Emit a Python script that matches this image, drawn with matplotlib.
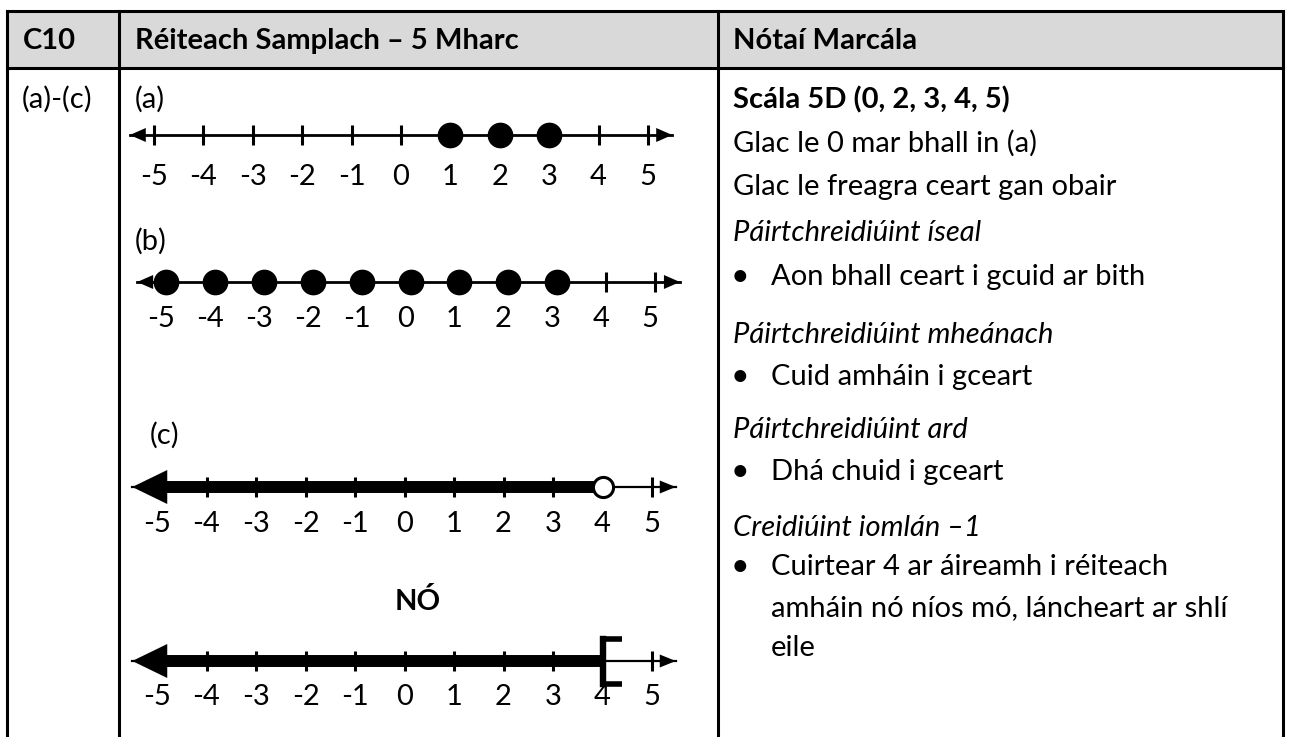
import matplotlib
matplotlib.use("Agg")
import matplotlib.pyplot as plt
from matplotlib.patches import Rectangle, Polygon

plt.rcParams['font.family'] = ['Lato', 'DejaVu Sans']

# ---------------- data ----------------
header_texts = ["C10", "Réiteach Samplach – 5 Mharc", "Nótaí Marcála"]
part_label = "(a)-(c)"
line_titles = ["(a)", "(b)", "(c)"]
or_word = "NÓ"
tick_values = [-5, -4, -3, -2, -1, 0, 1, 2, 3, 4, 5]
tick_labels = ["-5", "-4", "-3", "-2", "-1", "0", "1", "2", "3", "4", "5"]
a_points = [1, 2, 3]
b_points = [-5, -4, -3, -2, -1, 0, 1, 2, 3]
c_open_point = 4          # x < 4, open circle at 4
or_bracket_point = 4      # x <= 4 shown with bracket at 4 (alternative)
notes_texts = [
    "Scála 5D (0, 2, 3, 4, 5)",
    "Glac le 0 mar bhall in (a)",
    "Glac le freagra ceart gan obair",
    "Páirtchreidiúint íseal",
    "Aon bhall ceart i gcuid ar bith",
    "Páirtchreidiúint mheánach",
    "Cuid amháin i gceart",
    "Páirtchreidiúint ard",
    "Dhá chuid i gceart",
    "Creidiúint iomlán –1",
    "Cuirtear 4 ar áireamh i réiteach",
    "amháin nó níos mó, láncheart ar shlí",
    "eile",
]
notes_styles = ["bold", "normal", "normal", "italic", "bullet", "italic", "bullet",
                "italic", "bullet", "italic", "bullet", "cont", "cont"]

# ---------------- layout ----------------
W, H = 1290, 737
FS = 21
notes_y = [100, 143, 187, 233, 277, 335, 377, 430, 472, 528, 567, 608, 648]

fig = plt.figure(figsize=(W / 100, H / 100), dpi=100)
bg = fig.add_axes([0, 0, 1, 1])
bg.set_xlim(0, W)
bg.set_ylim(H, 0)
bg.axis('off')

L, R, T, HB = 7, 1283, 11, 68
C1, C2 = 119, 718
bg.add_patch(Rectangle((L, T), R - L, HB - T, fc='#D9D9D9', ec='none', zorder=0))
blw = 2.2
for yy in (T, HB):
    bg.plot([L, R], [yy, yy], color='black', lw=blw, solid_capstyle='projecting')
for xx in (L, C1, C2, R):
    bg.plot([xx, xx], [T, H + 5], color='black', lw=blw, solid_capstyle='projecting')

bg.text(23, 41, header_texts[0], fontsize=FS, fontweight='bold', va='center', ha='left')
bg.text(135, 41, header_texts[1], fontsize=FS, fontweight='bold', va='center', ha='left')
bg.text(733, 41, header_texts[2], fontsize=FS, fontweight='bold', va='center', ha='left')
bg.text(22, 99, part_label, fontsize=FS, va='center', ha='left')

# notes column
for txt, sty, yy in zip(notes_texts, notes_styles, notes_y):
    if sty == "bold":
        bg.text(733, yy, txt, fontsize=FS, fontweight='bold', va='center')
    elif sty == "italic":
        bg.text(733, yy, txt, fontsize=FS, style='italic', va='center')
    elif sty == "bullet":
        bg.text(740, yy, "•", fontsize=FS + 2, va='center', ha='center')
        bg.text(771, yy, txt, fontsize=FS, va='center')
    elif sty == "cont":
        bg.text(771, yy, txt, fontsize=FS, va='center')
    else:
        bg.text(733, yy, txt, fontsize=FS, va='center')

# titles
bg.text(135, 99, line_titles[0], fontsize=FS, va='center')
bg.text(135, 241, line_titles[1], fontsize=FS, va='center')
bg.text(150, 435, line_titles[2], fontsize=FS, va='center')
bg.text(418, 602, or_word, fontsize=FS, fontweight='bold', va='center', ha='center')


def make_line_axes(x0, unit, yc):
    ax = fig.add_axes([(x0 - 6 * unit) / W, 1 - (yc + 30) / H, 12 * unit / W, 60 / H])
    ax.set_xlim(-6, 6)
    ax.set_ylim(-30, 30)
    ax.axis('off')
    return ax


def arrow_head(ax, tip, unit, length_px, half_px, direction):
    base = tip - direction * length_px / unit
    ax.add_patch(Polygon([(tip, 0), (base, half_px), (base, -half_px)], closed=True,
                         fc='black', ec='none', zorder=4))
    return base


def draw_ticks_labels(ax, label_dy, label_dx_px, unit, skip=()):
    for v, lab in zip(tick_values, tick_labels):
        if v not in skip:
            ax.plot([v, v], [-10, 10], color='black', lw=2.2, zorder=3, solid_capstyle='butt')
        ax.text(v + label_dx_px / unit, -label_dy, lab, fontsize=FS, ha='center', va='center')


# (a)
ua = 49.4
axa = make_line_axes(401, ua, 135)
axa.plot([-5.49, 5.49], [0, 0], color='black', lw=2.0, zorder=2)
arrow_head(axa, -5.49, ua, 16, 7, -1)
arrow_head(axa, 5.49, ua, 16, 7, 1)
draw_ticks_labels(axa, 42, 0, ua)
axa.plot(a_points, [0] * len(a_points), 'o', color='black', ms=17.5, zorder=5)

# (b)
ub = 48.9
axb = make_line_axes(410.5, ub, 282)
axb.plot([-5.59, 5.51], [0, 0], color='black', lw=2.0, zorder=2)
arrow_head(axb, -5.59, ub, 16, 7, -1)
arrow_head(axb, 5.51, ub, 16, 7, 1)
draw_ticks_labels(axb, 37, -5, ub)
axb.plot(b_points, [0] * len(b_points), 'o', color='black', ms=17.5, zorder=5)

# (c)
uc = 49.5
axc = make_line_axes(404.5, uc, 487)
axc.plot([-5.5, 5.48], [0, 0], color='black', lw=1.6, zorder=2)
base_c = arrow_head(axc, -5.5, uc, 35, 17, -1)
arrow_head(axc, 5.48, uc, 16, 6.5, 1)
axc.plot([base_c, c_open_point], [0, 0], color='black', lw=8.6, zorder=2, solid_capstyle='butt')
draw_ticks_labels(axc, 37, 0, uc, skip=(c_open_point,))
axc.plot([c_open_point], [0], 'o', mfc='white', mec='black', mew=2.2, ms=14.5, zorder=6)

# alternative (NÓ)
axd = make_line_axes(404.5, uc, 661)
axd.plot([-5.5, 5.48], [0, 0], color='black', lw=1.6, zorder=2)
base_d = arrow_head(axd, -5.5, uc, 35, 17, -1)
arrow_head(axd, 5.48, uc, 16, 6.5, 1)
axd.plot([base_d, or_bracket_point], [0, 0], color='black', lw=8.6, zorder=2, solid_capstyle='butt')
draw_ticks_labels(axd, 36, 0, uc, skip=(or_bracket_point,))
arm = 19 / uc
axd.plot([or_bracket_point + arm, or_bracket_point, or_bracket_point, or_bracket_point + arm],
         [22.5, 22.5, -22.5, -22.5], color='black', lw=4.0, zorder=6,
         solid_joinstyle='miter', solid_capstyle='butt')
axd.plot([or_bracket_point, or_bracket_point], [-22.5, 22.5], color='black', lw=4.6, zorder=6)

fig.savefig("out.png", dpi=100)
